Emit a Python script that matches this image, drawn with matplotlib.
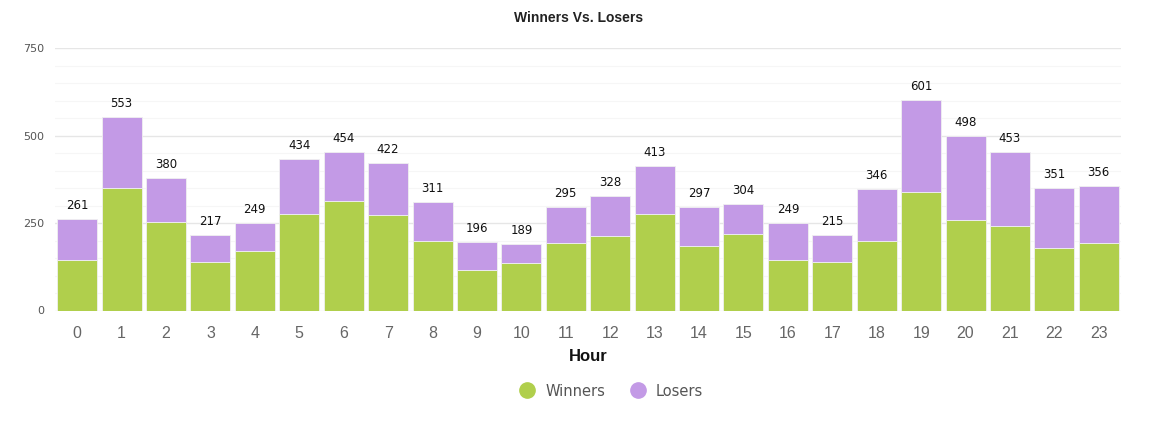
import matplotlib
matplotlib.use("Agg")
import matplotlib.pyplot as plt
from matplotlib.lines import Line2D
import numpy as np

hours = list(range(24))
totals = [261, 553, 380, 217, 249, 434, 454, 422, 311, 196, 189, 295,
          328, 413, 297, 304, 249, 215, 346, 601, 498, 453, 351, 356]
winners = [144, 350, 252, 140, 171, 276, 312, 272, 198, 117, 136, 194,
           214, 276, 183, 218, 144, 140, 198, 338, 260, 241, 178, 194]
losers = [t - w for t, w in zip(totals, winners)]
y_ticks = [0, 250, 500, 750]

green = "#b0cf4c"
purple = "#c39ae6"

fig = plt.figure(figsize=(11.58, 4.25), dpi=100)
ax = fig.add_axes([55 / 1158, 1 - 310.5 / 425, (1121 - 55) / 1158, (310.5 - 48) / 425])

x = np.arange(len(hours))
ax.bar(x, winners, width=0.9, color=green, edgecolor="#f0f0f0", linewidth=0.6, zorder=3)
ax.bar(x, losers, width=0.9, bottom=winners, color=purple, edgecolor="#f0f0f0", linewidth=0.6, zorder=3)

for xi, t in zip(x, totals):
    ax.annotate(str(t), (xi, t), xytext=(0, 5), textcoords="offset points",
                ha="center", va="bottom", fontsize=8.5, color="#111111",
                family="DejaVu Sans")

ax.set_xlim(-0.5, 23.5)
ax.set_ylim(0, 750)
ax.set_yticks(y_ticks)
ax.set_yticks(np.arange(0, 751, 50), minor=True)
ax.grid(axis="y", which="major", color="#e6e6e6", linewidth=1.0, zorder=0)
ax.grid(axis="y", which="minor", color="#f6f6f6", linewidth=0.8, zorder=0)
ax.set_xticks(x)
ax.set_xticklabels([str(h) for h in hours], fontsize=11.5, color="#666666",
                   family="Liberation Sans")
for lab in ax.get_yticklabels():
    lab.set_fontsize(8)
    lab.set_color("#555555")
ax.tick_params(axis="both", which="both", length=0)
ax.tick_params(axis="x", pad=11)
ax.tick_params(axis="y", pad=8)
for s in ax.spines.values():
    s.set_visible(False)

ax.set_xlabel("Hour", fontsize=12, fontweight="bold", color="#111111",
              labelpad=6, family="Liberation Sans")
fig.text(0.5, 1 - 18 / 425, "Winners Vs. Losers", ha="center", va="center",
         fontsize=10, fontweight="bold", color="#222222", family="Liberation Sans")

handles = [Line2D([], [], marker="o", linestyle="none", markersize=11, color=green),
           Line2D([], [], marker="o", linestyle="none", markersize=11, color=purple)]
fig.legend(handles, ["Winners", "Losers"], loc="center", bbox_to_anchor=(608 / 1158, 1 - 391 / 425),
           ncol=2, frameon=False, fontsize=10.5, handletextpad=0.25, columnspacing=1.2,
           labelcolor="#555555")

fig.savefig("out.png", dpi=100)
